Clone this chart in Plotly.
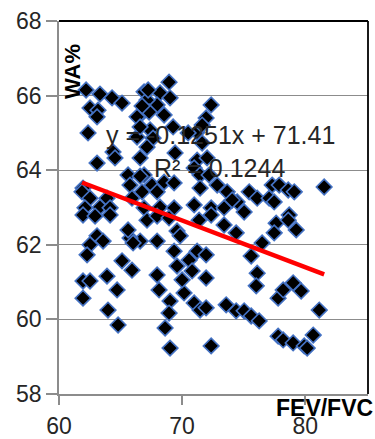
import numpy as np
import plotly.graph_objects as go

# FEV/FVC values (x) and WA% values (y)
fev_fvc = [
    62.20, 63.33, 64.31, 65.12, 62.52, 63.17, 63.09, 62.36, 64.39, 63.09,
    64.55, 65.61, 65.77, 65.93, 61.95, 61.87, 62.52, 63.90, 62.11, 63.33,
    64.15, 61.95, 62.93, 64.15, 68.94, 68.21, 69.02, 67.97, 66.91, 67.15,
    66.75, 67.32, 68.54, 67.40, 66.34, 67.64, 69.27, 67.15, 69.43, 66.59,
    72.36, 71.95, 71.22, 71.63, 70.49, 71.22, 70.98, 71.46, 71.46, 72.36,
    72.03, 72.20, 72.85, 73.66, 74.47, 75.45, 76.10, 77.07, 73.41, 75.04,
    77.32, 77.89, 78.62, 79.11, 81.54, 77.48, 78.70, 74.07, 66.91, 67.56,
    68.54, 69.35, 66.75, 67.97, 66.91, 68.21, 69.35, 70.98, 67.15, 67.97,
    66.59, 69.59, 69.84, 71.38, 69.35, 71.22, 70.57, 69.59, 70.81, 67.97,
    68.13, 70.16, 70.98, 71.46, 69.02, 68.94, 68.62, 69.02, 67.97, 68.94,
    63.09, 63.58, 62.52, 62.28, 65.77, 66.02, 65.61, 65.12, 65.93, 61.95,
    62.52, 61.95, 63.90, 64.72, 63.98, 64.80, 72.36, 73.41, 74.39, 76.50,
    75.61, 76.10, 76.02, 71.95, 71.95, 71.95, 73.58, 74.39, 75.04, 75.61,
    76.26, 72.36, 77.64, 78.62, 79.27, 77.48, 77.80, 78.21, 79.02, 79.67,
    81.14, 77.80, 78.21, 79.02, 79.92, 80.65, 80.16, 70.00, 71.63, 67.24,
    66.75, 66.34, 66.59, 66.59,
]
wa_pct = [
    66.15, 66.04, 65.94, 65.80, 65.67, 65.61, 65.43, 65.00, 64.49, 64.19,
    64.33, 63.87, 63.60, 63.25, 63.52, 63.42, 63.25, 63.25, 62.99, 63.01,
    62.99, 62.80, 62.77, 62.80, 66.36, 66.07, 65.94, 65.75, 66.10, 65.88,
    65.53, 65.56, 65.48, 65.08, 64.89, 64.86, 65.16, 64.62, 64.46, 64.33,
    65.75, 65.40, 65.02, 65.21, 65.00, 64.27, 64.06, 63.87, 63.52, 62.99,
    64.33, 63.87, 63.60, 63.42, 63.15, 63.42, 63.25, 63.25, 62.99, 62.88,
    63.60, 63.60, 63.47, 63.42, 63.55, 63.15, 62.80, 63.20, 63.87, 63.60,
    63.68, 63.66, 63.42, 63.42, 62.99, 63.01, 62.99, 63.07, 62.66, 62.10,
    62.10, 62.37, 62.24, 62.66, 61.83, 61.83, 61.59, 61.43, 61.30, 61.19,
    60.79, 60.71, 60.44, 60.25, 60.49, 60.17, 59.77, 59.23, 62.77, 62.72,
    62.24, 62.10, 62.00, 61.73, 62.18, 62.05, 62.40, 61.57, 61.32, 61.03,
    61.03, 60.57, 61.16, 60.79, 60.25, 59.85, 62.80, 62.53, 62.32, 62.05,
    61.70, 61.24, 60.90, 61.73, 61.11, 60.31, 60.39, 60.23, 60.23, 60.09,
    59.96, 59.29, 62.58, 62.66, 62.40, 62.32, 60.57, 60.79, 60.98, 60.76,
    60.25, 59.55, 59.45, 59.37, 59.29, 59.58, 59.23, 61.06, 64.73, 66.15,
    65.72, 65.43, 65.16, 63.84,
]

slope = -0.1251
intercept = 71.41
r_squared = 0.1244

x_ticks = [60, 70, 80]
y_ticks = [58, 60, 62, 64, 66, 68]

trend_x = np.array([min(fev_fvc), max(fev_fvc)])
trend_y = slope * trend_x + intercept

fig = go.Figure()
fig.add_trace(go.Scatter(
    x=fev_fvc, y=wa_pct, mode="markers",
    marker=dict(symbol="diamond", size=12, color="black",
                line=dict(color="#4472C4", width=1.6)),
    showlegend=False, hoverinfo="skip", cliponaxis=False,
))
fig.add_trace(go.Scatter(
    x=trend_x, y=trend_y, mode="lines",
    line=dict(color="#FF0000", width=4.5),
    showlegend=False, hoverinfo="skip",
))

tick_font = dict(family="Arial, Liberation Sans", size=23, color="#262626")

fig.update_layout(
    width=375, height=439,
    margin=dict(l=59, r=7, t=21, b=45),
    paper_bgcolor="white", plot_bgcolor="white",
    xaxis=dict(range=[60, 85.1], tickvals=x_ticks, showgrid=False,
               showline=True, linecolor="#8c8c8c", linewidth=1.5,
               ticks="outside", ticklen=9, tickcolor="#8c8c8c", tickwidth=1.5,
               tickfont=tick_font, ticklabelstandoff=2, zeroline=False,
               automargin=False),
    yaxis=dict(range=[58, 68], tickvals=y_ticks, showgrid=True,
               gridcolor="#8c8c8c", gridwidth=1.2,
               showline=True, linecolor="#8c8c8c", linewidth=1.5,
               ticks="outside", ticklen=11, tickcolor="#8c8c8c", tickwidth=1.5,
               tickfont=tick_font, zeroline=False, automargin=False),
    shapes=[
        dict(type="line", xref="paper", yref="paper", x0=0, x1=1, y0=1, y1=1,
             line=dict(color="black", width=1.8)),
        dict(type="line", xref="paper", yref="paper", x0=1, x1=1, y0=0, y1=1,
             line=dict(color="black", width=1.8)),
    ],
    annotations=[
        dict(text=f"y = {slope}x + {intercept}", xref="paper", yref="paper",
             x=(220 - 59) / 309, y=(394 - 135) / 373, showarrow=False,
             xanchor="center", yanchor="middle",
             font=dict(family="Arial, Liberation Sans", size=25, color="#262626")),
        dict(text=f"R² = {r_squared}", xref="paper", yref="paper",
             x=(219 - 59) / 309, y=(394 - 168) / 373, showarrow=False,
             xanchor="center", yanchor="middle",
             font=dict(family="Arial, Liberation Sans", size=25, color="#262626")),
        dict(text="<b>WA%</b>", xref="paper", yref="paper", textangle=-90,
             x=(72 - 59) / 309, y=(394 - 72) / 373, showarrow=False,
             xanchor="center", yanchor="middle",
             font=dict(family="Arial, Liberation Sans", size=22, color="black")),
        dict(text="<b>FEV/FVC</b>", xref="paper", yref="paper",
             x=(375 - 59) / 309, y=(394 - 408) / 373, showarrow=False,
             xanchor="right", yanchor="middle",
             font=dict(family="Arial, Liberation Sans", size=23, color="black")),
    ],
)

fig.write_html("out.html")
